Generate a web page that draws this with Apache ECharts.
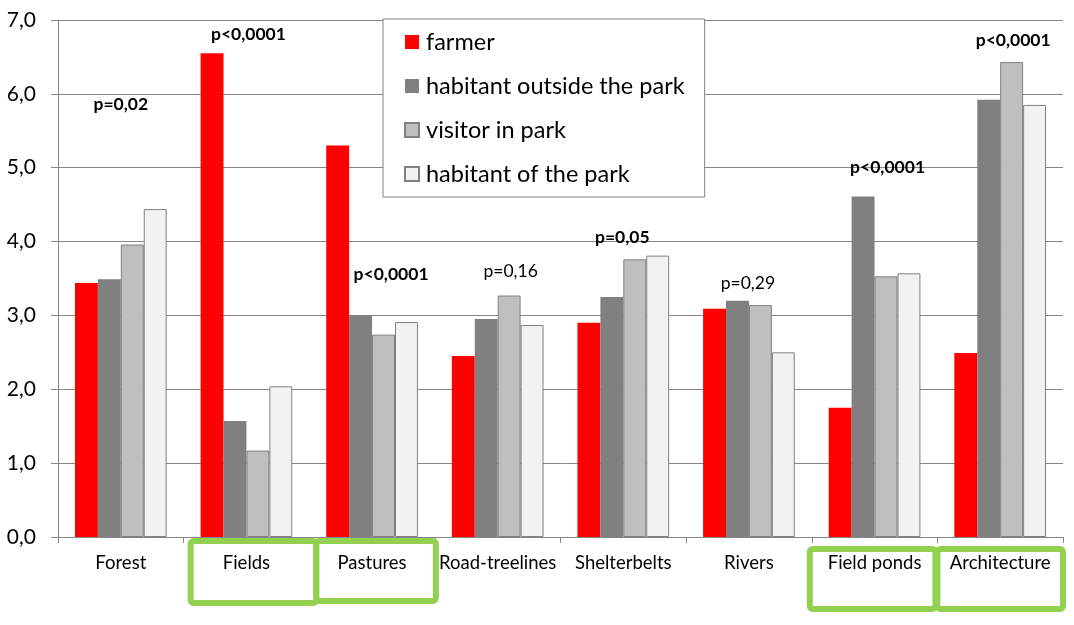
<!DOCTYPE html>
<html>
<head>
<meta charset="utf-8">
<script src="https://cdn.jsdelivr.net/npm/echarts@6/dist/echarts.min.js"></script>
<style>
html,body{margin:0;padding:0;background:#fff;}
#chart{width:1074px;height:625px;}
</style>
</head>
<body>
<div id="chart"></div>
<script>
const categories = ['Forest', 'Fields', 'Pastures', 'Road-treelines', 'Shelterbelts', 'Rivers', 'Field ponds', 'Architecture'];
const seriesNames = ['farmer', 'habitant outside the park', 'visitor in park', 'habitant of the park'];
const farmer = [3.44, 6.55, 5.30, 2.45, 2.90, 3.09, 1.75, 2.49];
const habitantOutside = [3.49, 1.57, 3.00, 2.95, 3.25, 3.20, 4.61, 5.92];
const visitor = [3.96, 1.17, 2.74, 3.27, 3.76, 3.14, 3.53, 6.43];
const habitantPark = [4.44, 2.04, 2.91, 2.87, 3.81, 2.50, 3.57, 5.85];
const yTicks = [0, 1, 2, 3, 4, 5, 6, 7];
// significance annotations: category, text, value level, bold
const annotCategory = ['Forest', 'Fields', 'Pastures', 'Road-treelines', 'Shelterbelts', 'Rivers', 'Field ponds', 'Architecture'];
const annotText = ['p=0,02', 'p<0,0001', 'p<0,0001', 'p=0,16', 'p=0,05', 'p=0,29', 'p<0,0001', 'p<0,0001'];
const annotLevel = [5.86, 6.81, 3.55, 3.59, 4.06, 3.44, 5.00, 6.72];
const annotBold = [true, true, true, false, true, false, true, true];
const highlighted = ['Fields', 'Pastures', 'Field ponds', 'Architecture'];

const annotShift = [0, 2, 19, 13, -1, -1, 13, 13];
const FONT = 'Lato';
const colors = ['#FF0000', '#808080', '#BFBFBF', '#F2F2F2'];
const borders = [null, null, '#808080', '#808080'];
const values = [farmer, habitantOutside, visitor, habitantPark];

const chart = echarts.init(document.getElementById('chart'), null, {renderer: 'canvas'});

const barSeries = seriesNames.map((n, i) => ({
  name: n,
  type: 'bar',
  data: values[i],
  barGap: '0%',
  barCategoryGap: '27%',
  itemStyle: {
    color: colors[i],
    borderColor: borders[i] || colors[i],
    borderWidth: borders[i] ? 1 : 0
  },
  emphasis: {disabled: true},
  animation: false
}));

const annotSeries = {
  type: 'scatter',
  symbolSize: 0,
  silent: true,
  animation: false,
  z: 10,
  itemStyle: {opacity: 1},
  data: annotCategory.map((c, i) => ({
    value: [c, annotLevel[i]],
    label: {
      show: true,
      position: 'inside',
      offset: [annotShift[i], 0],
      formatter: annotText[i],
      fontFamily: FONT,
      fontSize: 17.5,
      fontWeight: annotBold[i] ? 'bold' : 'normal',
      color: '#000',
      opacity: 1
    }
  }))
};

const option = {
  backgroundColor: '#fff',
  animation: false,
  grid: {left: 58, right: 11, top: 20, bottom: 88, containLabel: false},
  legend: {
    data: seriesNames,
    orient: 'vertical',
    left: 383,
    top: 19,
    backgroundColor: '#fff',
    borderColor: '#808080',
    borderWidth: 1,
    padding: [11, 20, 11, 21],
    itemWidth: 14,
    itemHeight: 14,
    itemGap: 20,
    icon: 'rect',
    selectedMode: false,
    textStyle: {fontFamily: FONT, fontSize: 23.5, color: '#000', lineHeight: 20, padding: [0, 0, 0, 2]},
    z: 20
  },
  xAxis: {
    type: 'category',
    data: categories,
    axisLine: {lineStyle: {color: '#868686', width: 1}},
    axisTick: {show: true, length: 6, lineStyle: {color: '#868686'}},
    axisLabel: {fontFamily: FONT, fontSize: 18.5, color: '#000', margin: 17, interval: 0}
  },
  yAxis: {
    type: 'value',
    min: yTicks[0],
    max: yTicks[yTicks.length - 1],
    interval: 1,
    axisLine: {show: true, lineStyle: {color: '#868686', width: 1}},
    axisTick: {show: true, length: 7, lineStyle: {color: '#868686'}},
    splitLine: {lineStyle: {color: '#868686', width: 1}},
    axisLabel: {fontFamily: FONT, fontSize: 21, color: '#000', margin: 22, formatter: v => v.toFixed(1).replace('.', ',')}
  },
  series: barSeries.concat([annotSeries])
};

chart.setOption(option);

// green highlight boxes around selected category labels
const catW = chart.getModel().getComponent('grid').coordinateSystem.getRect().width / categories.length;
const boxTop = {'Fields': 541, 'Pastures': 541, 'Field ponds': 549, 'Architecture': 549};
const boxH = {'Fields': 62, 'Pastures': 60, 'Field ponds': 60, 'Architecture': 60};
const boxDx = {'Fields': 7, 'Pastures': 7, 'Field ponds': -2, 'Architecture': 0};
const boxDw = {'Fields': 0, 'Pastures': -6, 'Field ponds': 0, 'Architecture': 0};
const graphics = highlighted.map(c => {
  const cx = chart.convertToPixel({xAxisIndex: 0}, c);
  const w = catW + boxDw[c];
  return {
    type: 'rect',
    shape: {x: cx - catW / 2 + boxDx[c], y: boxTop[c], width: w, height: boxH[c], r: 3},
    style: {fill: null, stroke: '#92D050', lineWidth: 6},
    silent: true,
    z: 30
  };
});
chart.setOption({graphic: graphics});
</script>
</body>
</html>
